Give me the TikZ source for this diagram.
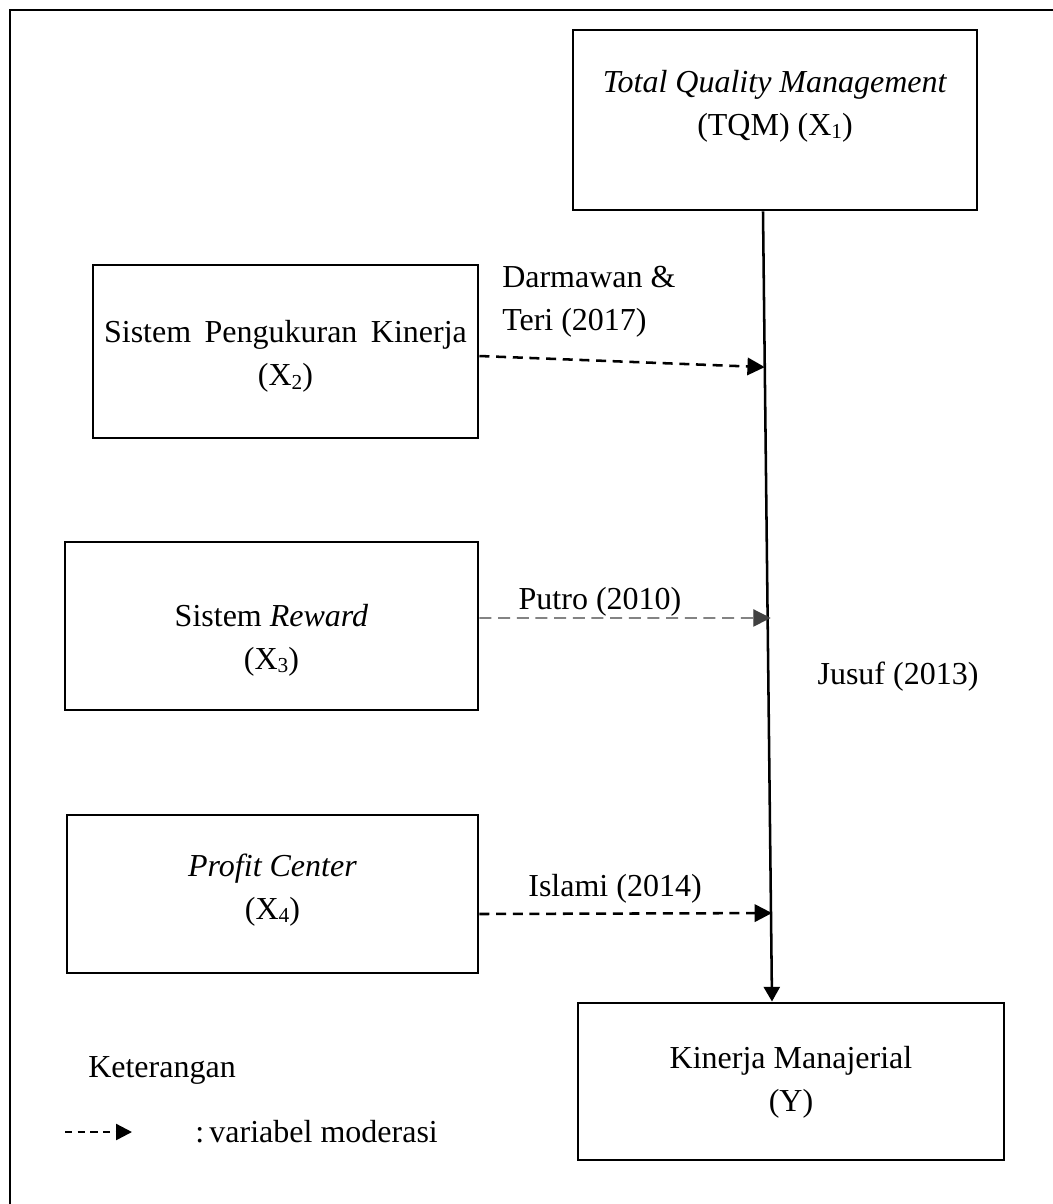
\documentclass[tikz,border=0pt]{standalone}
\usepackage{fontspec}
\setmainfont{Liberation Serif}
\usetikzlibrary{arrows.meta,calc}
\newcommand\sbs[1]{\raisebox{-0.25ex}{\fontsize{16}{16}\selectfont #1}}
\begin{document}
\begin{tikzpicture}[x=0.75pt,y=-0.75pt,
  box/.style={draw,line width=2.2pt,inner sep=0pt,rectangle},
  txt/.style={align=center,inner sep=0pt,font=\fontsize{24}{32}\selectfont},
  mod/.style={line width=1.9pt,dash pattern=on 7.5pt off 5pt,-{Triangle[length=13pt,width=13pt]}},
  main/.style={line width=1.9pt,-{Triangle[length=11pt,width=12pt]}}]
\useasboundingbox (0,0) rectangle (1053,1204);
% frame
\draw[line width=1.6pt] (10,1204) -- (10,10) -- (1053,10);
% boxes
\node[box,minimum width={404*0.75pt},minimum height={180*0.75pt}] (tqm) at (775,120) {};
\node[box,minimum width={385*0.75pt},minimum height={173*0.75pt}] (spk) at (285.5,351.5) {};
\node[box,minimum width={413*0.75pt},minimum height={168*0.75pt}] (rew) at (271.5,626) {};
\node[box,minimum width={411*0.75pt},minimum height={158*0.75pt}] (pro) at (272.5,894) {};
\node[box,minimum width={426*0.75pt},minimum height={157*0.75pt}] (kin) at (791,1081.5) {};
% box texts
\node[txt] (tqmT) at (775,106) {\textit{Total Quality Management}\\(TQM) (X\sbs{1})};
\node[txt] (spkT) at (285.5,356.5) {\spaceskip=0.42em Sistem Pengukuran Kinerja\\(X\sbs{2})};
\node[txt] (rewT) at (271.5,640) {Sistem \textit{Reward}\\(X\sbs{3})};
\node[txt] (proT) at (272.5,890) {\textit{Profit Center}\\(X\sbs{4})};
\node[txt] (kinT) at (791,1082) {Kinerja Manajerial\\(Y)};
% main connector
\coordinate (a) at ($(tqm.south)+(-12,0)$);
\coordinate (b) at ($(kin.north)+(-19,0)$);
\draw[main] (a) -- (b);
\coordinate (m1) at ($(a)!0.197!(b)$);
\coordinate (m2) at ($(a)!0.5145!(b)+(3,0)$);
\coordinate (m3) at ($(a)!0.888!(b)+(1,0)$);
\draw[mod] ($(spk.east)+(0,4.5)$) -- (m1);
\draw[mod,line width=1pt,draw=black!75,dash pattern=on 9pt off 5pt] (rew.east |- 0,618) -- (m2);
\draw[mod] (pro.east |- 0,914) -- (m3);
% labels
\node[txt,align=left,anchor=west] (l1) at (502,302) {Darmawan \&\\Teri (2017)};
\node[txt] (l2) at (600,602) {Putro (2010)};
\node[txt] (l3) at (898,677) {Jusuf (2013)};
\node[txt] (l4) at (615,889) {Islami (2014)};
% legend
\node[txt,anchor=west] (ket) at (88,1070) {Keterangan};
\node[txt,anchor=west] (var) at (195,1132) {:\,variabel moderasi};
\coordinate (la) at (65,1132);
\coordinate (lb) at (132,1132);
\draw[line width=1.8pt,dash pattern=on 5.5pt off 4pt,-{Triangle[length=12pt,width=12pt]}] (la) -- (lb);
\end{tikzpicture}
\end{document}
